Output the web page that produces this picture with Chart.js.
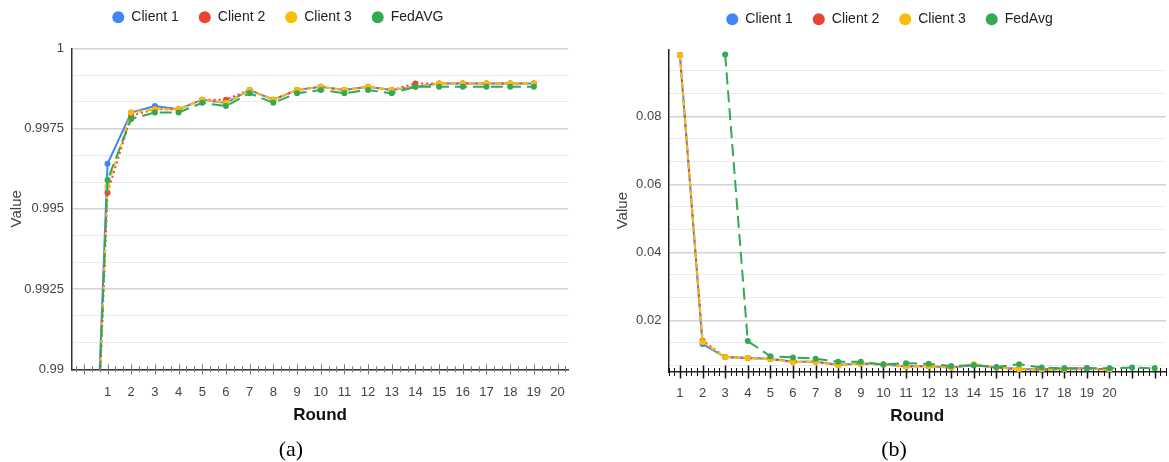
<!DOCTYPE html>
<html>
<head>
<meta charset="utf-8">
<script src="https://cdn.jsdelivr.net/npm/chart.js@4/dist/chart.umd.min.js"></script>
<style>
html,body{margin:0;padding:0;background:#fff;}
#wrap{position:relative;width:1169px;height:462px;overflow:hidden;background:#fff;}
#ca{position:absolute;left:0;top:0;}
#cb{position:absolute;left:590px;top:0;}
.cap{position:absolute;top:436px;width:60px;text-align:center;line-height:26px;font-family:'Liberation Serif','Times New Roman',serif;font-size:22px;color:#000;}
</style>
</head>
<body>
<div id="wrap">
  <canvas id="ca" width="580" height="440"></canvas>
  <canvas id="cb" width="579" height="440"></canvas>
  <div class="cap" style="left:261px">(a)</div>
  <div class="cap" style="left:864px">(b)</div>
</div>
<script>
// ---------- data ----------
const seriesNamesA = ['Client 1', 'Client 2', 'Client 3', 'FedAVG'];
const seriesNamesB = ['Client 1', 'Client 2', 'Client 3', 'FedAvg'];

// (a) accuracy-like values per round (round 0 lies below the visible range)
const roundsA   = [0, 1, 2, 3, 4, 5, 6, 7, 8, 9, 10, 11, 12, 13, 14, 15, 16, 17, 18, 19];
const client1A  = [0.977, 0.9964, 0.9980, 0.9982, 0.9981, 0.9984, 0.9983, 0.9987, 0.9984, 0.9987, 0.9988, 0.9987, 0.9988, 0.9987, 0.9988, 0.9989, 0.9989, 0.9989, 0.9989, 0.9989];
const client2A  = [0.977, 0.9955, 0.9979, 0.9981, 0.9981, 0.9984, 0.9984, 0.9987, 0.9984, 0.9987, 0.9988, 0.9987, 0.9988, 0.9987, 0.9989, 0.9989, 0.9989, 0.9989, 0.9989, 0.9989];
const client3A  = [0.977, 0.9957, 0.9980, 0.9981, 0.9981, 0.9984, 0.9983, 0.9987, 0.9984, 0.9987, 0.9988, 0.9987, 0.9988, 0.9987, 0.9988, 0.9989, 0.9989, 0.9989, 0.9989, 0.9989];
const fedAvgA   = [0.977, 0.9959, 0.9978, 0.9980, 0.9980, 0.9983, 0.9982, 0.9986, 0.9983, 0.9986, 0.9987, 0.9986, 0.9987, 0.9986, 0.9988, 0.9988, 0.9988, 0.9988, 0.9988, 0.9988];

// (b) loss-like values
const roundsClientsB = [1, 2, 3, 4, 5, 6, 7, 8, 9, 10, 11, 12, 13, 14, 15, 16, 17, 18, 19, 20];
const roundsFedB     = [3, 4, 5, 6, 7, 8, 9, 10, 11, 12, 13, 14, 15, 16, 17, 18, 19, 20, 21, 22];
const client1B = [0.0980, 0.0130, 0.0092, 0.0089, 0.0087, 0.0078, 0.0078, 0.0069, 0.0073, 0.0070, 0.0065, 0.0065, 0.0061, 0.0068, 0.0061, 0.0057, 0.0055, 0.0057, 0.0059, 0.0055];
const client2B = [0.0980, 0.0141, 0.0092, 0.0089, 0.0086, 0.0078, 0.0078, 0.0068, 0.0073, 0.0070, 0.0064, 0.0065, 0.0061, 0.0069, 0.0061, 0.0057, 0.0055, 0.0057, 0.0059, 0.0055];
const client3B = [0.0980, 0.0136, 0.0092, 0.0089, 0.0086, 0.0077, 0.0078, 0.0068, 0.0073, 0.0070, 0.0064, 0.0065, 0.0061, 0.0071, 0.0061, 0.0056, 0.0055, 0.0057, 0.0059, 0.0054];
const fedAvgB  = [0.0982, 0.0139, 0.0094, 0.0091, 0.0087, 0.0078, 0.0078, 0.0070, 0.0074, 0.0072, 0.0066, 0.0068, 0.0063, 0.0071, 0.0061, 0.0059, 0.0059, 0.0059, 0.0061, 0.0059];

// tick labels
const roundTickValues = [1, 2, 3, 4, 5, 6, 7, 8, 9, 10, 11, 12, 13, 14, 15, 16, 17, 18, 19, 20];
const roundTickLabels = ['1','2','3','4','5','6','7','8','9','10','11','12','13','14','15','16','17','18','19','20'];
const yTickLabelsA = ['0.99', '0.9925', '0.995', '0.9975', '1'];
const yTickLabelsB = ['0.02', '0.04', '0.06', '0.08'];

// ---------- styles ----------
const colors = ['#4285F4', '#EA4335', '#FBBC04', '#34A853'];
const dashes = [[], [2, 3], [6, 3], [12, 6]];

Chart.defaults.font.family = "'Liberation Sans', Arial, sans-serif";
Chart.defaults.color = '#444';

// gridline / tick positions
const yTickValuesA = []; for (let i = 0; i <= 12; i++) yTickValuesA.push(0.99 + i * 0.0025 / 3);
const yTickValuesB = []; for (let i = 1; i <= 14; i++) yTickValuesB.push(i * 0.02 / 3);
const majorXA = []; for (let i = 0; i <= 20; i++) majorXA.push(i);
const minorXA = []; for (let i = -1; i <= 20; i++) { minorXA.push(i + 1/3); minorXA.push(i + 2/3); }
const majorXB = []; for (let i = 1; i <= 22; i++) majorXB.push(i);
const minorXB = []; for (let i = 0; i <= 22; i++) { minorXB.push(i + 0.25); minorXB.push(i + 0.5); minorXB.push(i + 0.75); }

function makeDatasets(names, xsList, ysList, radius) {
  return names.map((name, i) => ({
    label: name,
    data: xsList[i].map((x, j) => ({ x: x, y: ysList[i][j] })),
    borderColor: colors[i],
    backgroundColor: colors[i],
    borderWidth: 2,
    borderDash: dashes[i],
    pointRadius: radius,
    pointHoverRadius: radius,
    pointBackgroundColor: colors[i],
    pointBorderWidth: 0,
    tension: 0,
    order: 4 - i
  }));
}

// cross-axis tick marks drawn through the x scale
const crossTicks = {
  id: 'crossTicks',
  beforeDatasetsDraw(chart, args, o) {
    const xs = chart.scales.x, ctx = chart.ctx, y0 = chart.chartArea.bottom;
    ctx.save();
    ctx.strokeStyle = o.color;
    const draw = (vals, len, w) => {
      ctx.lineWidth = w;
      ctx.beginPath();
      vals.forEach(v => {
        if (v < xs.min || v > xs.max) return;
        const px = Math.round(xs.getPixelForValue(v)) + 0.5;
        ctx.moveTo(px, y0 - len);
        ctx.lineTo(px, y0 + len);
      });
      ctx.stroke();
    };
    draw(o.minor, o.minorLen, o.minorWidth);
    draw(o.major, o.majorLen, o.majorWidth);
    ctx.restore();
  }
};

// place legend like the reference
const legendShift = {
  id: 'legendShift',
  afterLayout(chart, args, o) {
    const lg = chart.legend;
    if (!lg || !lg.lineWidths) return;
    const pad = lg.options.labels.padding;
    const startX = (lg.left + pad + lg.right - lg.lineWidths[0]) / 2;
    const dx = o.x - startX;
    lg.left += dx; lg.right += dx;
    lg.top += o.dy; lg.bottom += o.dy;
  }
};

function legendOpts() {
  return {
    display: true,
    position: 'top',
    align: 'center',
    labels: {
      usePointStyle: true,
      pointStyle: 'circle',
      boxWidth: 12,
      boxHeight: 8.485,
      padding: 20,
      color: '#222',
      font: { size: 14 },
      sort: (a, b) => a.datasetIndex - b.datasetIndex
    }
  };
}

// ---------- chart (a) ----------
new Chart(document.getElementById('ca'), {
  type: 'line',
  data: {
    datasets: makeDatasets(seriesNamesA, [roundsA, roundsA, roundsA, roundsA], [client1A, client2A, client3A, fedAvgA], 3)
  },
  options: {
    responsive: false,
    animation: false,
    events: [],
    layout: { padding: { top: 4.3, left: 0, right: 11, bottom: 0 } },
    plugins: {
      legend: legendOpts(),
      tooltip: { enabled: false },
      legendShift: { x: 112.3, dy: -14 },
      crossTicks: { major: majorXA, minor: minorXA, majorLen: 5, minorLen: 3, majorWidth: 1, minorWidth: 1, color: '#777' }
    },
    scales: {
      x: {
        type: 'linear', min: -0.5, max: 20.45,
        afterBuildTicks: s => { s.ticks = roundTickValues.map(v => ({ value: v })); },
        afterFit: s => { s.height = 70.7; },
        grid: { display: false, drawTicks: false },
        border: { display: true, color: '#333', width: 1.5 },
        ticks: { autoSkip: false, maxRotation: 0, minRotation: 0, padding: 15, color: '#444', font: { size: 13 },
                 callback: (v, i) => roundTickLabels[i] },
        title: { display: true, text: 'Round', color: '#111', font: { size: 17, weight: 'bold' }, padding: { top: 0, bottom: 14.8 } }
      },
      y: {
        type: 'linear', min: 0.99, max: 1,
        afterBuildTicks: s => { s.ticks = yTickValuesA.map(v => ({ value: v })); },
        afterFit: s => { s.width = 72; },
        grid: { drawTicks: false,
                color: c => (c.index % 3 === 0 ? '#d4d4d4' : '#ebebeb'),
                lineWidth: c => (c.index % 3 === 0 ? 1.5 : 1) },
        border: { display: true, color: '#333', width: 1.5 },
        ticks: { padding: 8, color: '#444', font: { size: 13 },
                 callback: (v, i) => (i % 3 === 0 ? yTickLabelsA[i / 3] : '') },
        title: { display: true, text: 'Value', color: '#444', font: { size: 15 }, padding: { top: 7.5, bottom: 0 } }
      }
    }
  },
  plugins: [crossTicks, legendShift]
});

// ---------- chart (b) ----------
new Chart(document.getElementById('cb'), {
  type: 'line',
  data: {
    datasets: makeDatasets(seriesNamesB, [roundsClientsB, roundsClientsB, roundsClientsB, roundsFedB], [client1B, client2B, client3B, fedAvgB], 3)
  },
  options: {
    responsive: false,
    animation: false,
    events: [],
    layout: { padding: { top: 5.3, left: 0, right: 0, bottom: 0 } },
    plugins: {
      legend: legendOpts(),
      tooltip: { enabled: false },
      legendShift: { x: 136.3, dy: -13.1 },
      crossTicks: { major: majorXB, minor: minorXB, majorLen: 6.5, minorLen: 4, majorWidth: 1.5, minorWidth: 1, color: '#111' }
    },
    scales: {
      x: {
        type: 'linear', min: 0.49, max: 22.5,
        afterBuildTicks: s => { s.ticks = roundTickValues.map(v => ({ value: v })); },
        afterFit: s => { s.height = 68; },
        grid: { display: false, drawTicks: false },
        border: { display: true, color: '#222', width: 1.5 },
        ticks: { autoSkip: false, maxRotation: 0, minRotation: 0, padding: 14, color: '#444', font: { size: 13 },
                 callback: (v, i) => roundTickLabels[i] },
        title: { display: true, text: 'Round', color: '#111', font: { size: 17, weight: 'bold' }, padding: { top: 0, bottom: 13.5 } }
      },
      y: {
        type: 'linear', min: 0.0048, max: 0.0997,
        afterBuildTicks: s => { s.ticks = yTickValuesB.map(v => ({ value: v })); },
        afterFit: s => { s.width = 78.4; },
        grid: { drawTicks: false,
                color: c => ((c.index + 1) % 3 === 0 ? '#d4d4d4' : '#ebebeb'),
                lineWidth: c => ((c.index + 1) % 3 === 0 ? 1.5 : 1) },
        border: { display: true, color: '#222', width: 1.5 },
        ticks: { padding: 7, color: '#444', font: { size: 13 },
                 callback: (v, i) => ((i + 1) % 3 === 0 ? yTickLabelsB[(i + 1) / 3 - 1] : '') },
        title: { display: true, text: 'Value', color: '#444', font: { size: 15 }, padding: { top: 23.4, bottom: 0 } }
      }
    }
  },
  plugins: [crossTicks, legendShift]
});
</script>
</body>
</html>
